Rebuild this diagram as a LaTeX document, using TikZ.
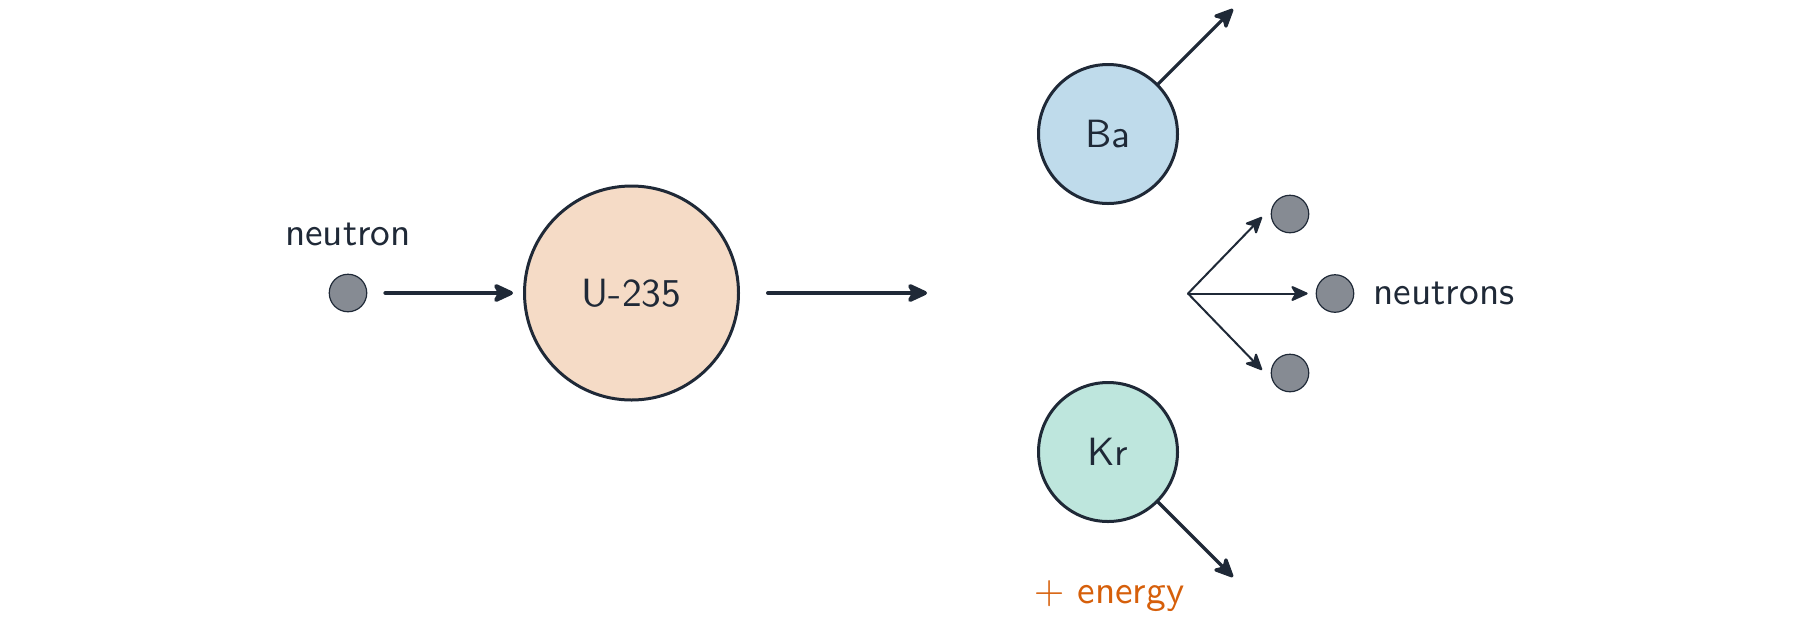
\documentclass[tikz,border=0pt]{standalone}
\usetikzlibrary{arrows.meta}
\definecolor{ink}{RGB}{31,41,55}
\definecolor{ufill}{RGB}{245,219,198}
\definecolor{bafill}{RGB}{191,219,235}
\definecolor{krfill}{RGB}{190,230,221}
\definecolor{ngray}{RGB}{134,139,147}
\definecolor{energyc}{RGB}{214,95,10}
\newcommand\bigtxt[1]{\scalebox{1.97}{#1}}
\begin{document}
\begin{tikzpicture}[x=0.5pt,y=-0.5pt,
  every node/.style={font=\fontsize{10}{12}\selectfont\sffamily, text=ink},
  nucleus/.style={circle, draw=ink, line width=1.5pt, inner sep=0pt},
  neut/.style={circle, draw=ink, fill=ngray, line width=0.6pt, minimum size=18.75pt, inner sep=0pt},
  bigarrow/.style={draw=ink, line width=2pt, line cap=round, -{Stealth[round, length=12pt, width=11pt, inset=3pt]}},
  diagarrow/.style={draw=ink, line width=1.6pt, line cap=round, -{Stealth[round, length=11.5pt, width=10.5pt, inset=3pt]}},
  thinarrow/.style={draw=ink, line width=1pt, line cap=round, -{Stealth[round, length=9.5pt, width=8.5pt, inset=2.5pt]}}]
\useasboundingbox (0,0) rectangle (1800,634);
% incoming neutron
\node[neut] (n0) at (348,293) {};
\node[anchor=base, inner sep=0pt] (lbl) at (348,245) {\bigtxt{neutron}};
% uranium
\node[nucleus, fill=ufill, minimum size=107pt] (u) at (631.5,293) {\bigtxt{U-235}};
\draw[bigarrow, shorten <=9pt, shorten >=5pt] (n0) -- (u);
\coordinate (a2) at (927,293);
\draw[bigarrow, shorten <=14pt] (u) -- (a2);
% fragments
\node[nucleus, fill=bafill, minimum size=69.5pt] (ba) at (1108,134) {\bigtxt{Ba}};
\node[nucleus, fill=krfill, minimum size=69.5pt] (kr) at (1108,452) {\bigtxt{Kr}};
\coordinate (bae) at (1233,9);
\coordinate (kre) at (1233,577);
\draw[diagarrow] (ba) -- (bae);
\draw[diagarrow] (kr) -- (kre);
\node[anchor=base, inner sep=0pt, text=energyc] (en) at (1109,603) {\bigtxt{$+$ energy}};
% emitted neutrons
\coordinate (fo) at (1188,293.5);
\node[neut] (nt) at (1290,214) {};
\node[neut] (nm) at (1335,293.5) {};
\node[neut] (nb) at (1290,373) {};
\coordinate (tt) at (1262,217);
\coordinate (tb) at (1262,370);
\draw[thinarrow] (fo) -- (tt);
\draw[thinarrow, shorten >=4pt] (fo) -- (nm);
\draw[thinarrow] (fo) -- (tb);
\node[anchor=base west, inner sep=0pt] (nl) at (1373,304) {\bigtxt{neutrons}};
\end{tikzpicture}
\end{document}
